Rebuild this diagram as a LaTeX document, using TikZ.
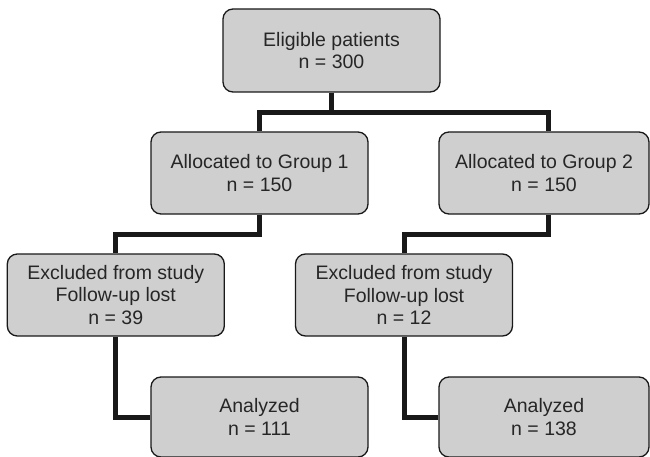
\documentclass[tikz,border=0pt]{standalone}
\usepackage{fontspec}
\setmainfont{Liberation Sans}
\usepackage{tikz}
\usetikzlibrary{arrows.meta}
\definecolor{boxfill}{rgb}{0.81,0.81,0.81}
\definecolor{lineK}{rgb}{0.1,0.1,0.1}
\definecolor{textK}{rgb}{0.15,0.15,0.15}

\begin{document}
\begin{tikzpicture}[x=1pt, y=-1pt, line join=miter,
  flowbox/.style={draw=lineK, line width=1.3pt, fill=boxfill, rounded corners=10pt,
    align=center, inner sep=0pt, text=textK,
    font=\fontsize{19.5}{22.5}\selectfont},
  link/.style={draw=lineK, line width=5pt}]
\useasboundingbox (0,0) rectangle (650,457);
% ---------- 盒子 ----------
\node[flowbox, minimum width=217, minimum height=83] (elig) at (331.5,50.5)
  {Eligible patients\\n = 300};
\node[flowbox, minimum width=217, minimum height=82] (grpA) at (259.5,173)
  {Allocated to Group 1\\n = 150};
\node[flowbox, minimum width=210, minimum height=82] (grpB) at (544,173)
  {Allocated to Group 2\\n = 150};
\node[flowbox, minimum width=217, minimum height=82] (exclA) at (115.8,295)
  {Excluded from study\\Follow-up lost\\n = 39};
\node[flowbox, minimum width=217, minimum height=82] (exclB) at (404,295)
  {Excluded from study\\Follow-up lost\\n = 12};
\node[flowbox, minimum width=217, minimum height=80] (anaA) at (259.5,417)
  {Analyzed\\n = 111};
\node[flowbox, minimum width=210, minimum height=80] (anaB) at (544,417)
  {Analyzed\\n = 138};
% ---------- 连线 ----------
\draw[link] (elig.south) -- ++(0,20) -| (grpA.north);
\draw[link] (elig.south) -- ++(0,20) -| ([xshift=4pt]grpB.north);
\draw[link] (grpA.south) -- ++(0,20) -| (exclA.north);
\draw[link] ([xshift=4pt]grpB.south) -- ++(0,20) -| (exclB.north);
\draw[link] (exclA.south) |- (anaA.west);
\draw[link] (exclB.south) |- (anaB.west);
\end{tikzpicture}
\end{document}
